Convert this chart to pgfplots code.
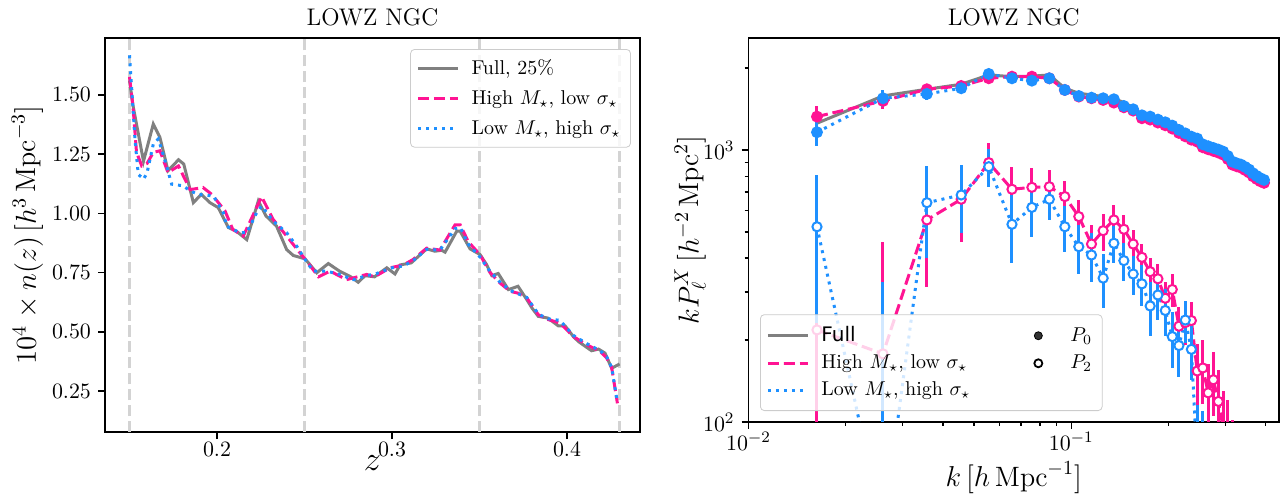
\documentclass[border=0pt]{standalone}
\usepackage{fontspec}
\newfontfamily\dejavu{DejaVu Sans}
\usepackage{pgfplots}
\usepackage{pgfplotstable}
\pgfplotsset{compat=1.18}

\definecolor{pinkc}{HTML}{FF1493}
\definecolor{bluec}{HTML}{1E90FF}
\definecolor{grayc}{HTML}{808080}
\definecolor{vline}{HTML}{D3D3D3}
\definecolor{legframe}{HTML}{CCCCCC}

% n(z), full sample
\pgfplotstableread{
z n
0.150 1.560
0.152 1.455
0.158 1.220
0.1636 1.377
0.1674 1.320
0.172 1.180
0.178 1.226
0.181 1.208
0.1865 1.045
0.191 1.080
0.196 1.045
0.2007 1.024
0.2065 0.940
0.211 0.925
0.217 0.889
0.2236 1.052
0.228 0.989
0.234 0.946
0.2398 0.847
0.2436 0.822
0.2503 0.808
0.257 0.749
0.2636 0.788
0.270 0.756
0.276 0.734
0.2807 0.709
0.2846 0.737
0.290 0.732
0.297 0.770
0.3017 0.744
0.3046 0.782
0.311 0.791
0.3198 0.850
0.3245 0.840
0.3284 0.844
0.3303 0.836
0.337 0.925
0.3389 0.925
0.3446 0.850
0.3503 0.826
0.354 0.784
0.357 0.737
0.3607 0.746
0.3665 0.678
0.372 0.692
0.377 0.636
0.380 0.600
0.3836 0.565
0.389 0.558
0.395 0.525
0.3989 0.525
0.4036 0.480
0.4065 0.459
0.414 0.420
0.418 0.427
0.4217 0.410
0.4255 0.346
0.430 0.364
}\nzfull

% n(z), high M, low sigma
\pgfplotstableread{
z n
0.150 1.576
0.152 1.450
0.154 1.258
0.157 1.200
0.160 1.210
0.1636 1.257
0.1674 1.264
0.172 1.172
0.178 1.200
0.1846 1.100
0.192 1.109
0.197 1.080
0.2046 1.010
0.209 0.932
0.215 0.904
0.2255 1.070
0.232 0.975
0.2398 0.904
0.2474 0.833
0.252 0.791
0.258 0.732
0.2646 0.756
0.274 0.720
0.2855 0.742
0.290 0.732
0.2989 0.770
0.3065 0.782
0.312 0.805
0.3198 0.853
0.3274 0.845
0.336 0.951
0.339 0.951
0.3436 0.880
0.3503 0.825
0.356 0.750
0.3617 0.706
0.3674 0.671
0.372 0.663
0.377 0.643
0.3836 0.572
0.389 0.552
0.396 0.537
0.4036 0.480
0.4113 0.445
0.419 0.417
0.4226 0.390
0.4255 0.350
0.4288 0.198
}\nzhigh

% n(z), low M, high sigma
\pgfplotstableread{
z n
0.150 1.667
0.1515 1.500
0.1531 1.314
0.155 1.165
0.158 1.144
0.160 1.170
0.1636 1.292
0.1665 1.314
0.1703 1.222
0.1741 1.123
0.1807 1.116
0.1846 1.095
0.1893 1.080
0.198 1.073
0.2036 1.003
0.2055 0.946
0.213 0.918
0.217 0.918
0.2227 1.003
0.2255 1.031
0.232 0.968
0.2398 0.918
0.2455 0.862
0.2503 0.805
0.255 0.756
0.2627 0.756
0.270 0.742
0.2779 0.720
0.2846 0.735
0.2912 0.746
0.300 0.770
0.3065 0.778
0.312 0.800
0.3198 0.848
0.3274 0.845
0.336 0.935
0.339 0.940
0.3436 0.870
0.3503 0.815
0.356 0.755
0.3617 0.710
0.3674 0.675
0.377 0.645
0.3836 0.575
0.389 0.555
0.396 0.548
0.4036 0.485
0.4113 0.450
0.419 0.420
0.4226 0.395
0.4255 0.350
0.4288 0.200
}\nzlow

% P0, full sample
\pgfplotstableread{
k y
0.0163 1254
0.0261 1580
0.0357 1672
0.0456 1744
0.0555 1887
0.0655 1860
0.0755 1868
0.0855 1887
0.0955 1686
0.1055 1616
0.1155 1593
0.1255 1571
0.1355 1549
0.1455 1493
0.1555 1435
0.1655 1328
0.1755 1313
0.1855 1280
0.1955 1251
0.2055 1217
0.2155 1173
0.2255 1140
0.2355 1108
0.2455 1090
0.2555 1040
0.2655 1022
0.2755 1007
0.2855 993
0.2955 976
0.3055 941
0.3155 897
0.3255 884
0.3355 874
0.3455 857
0.3555 839
0.3655 813
0.3755 794
0.3855 779
0.3955 768
}\pzfull

% P0, high M, low sigma
\pgfplotstableread{
k y e
0.0163 1326 120
0.0261 1514 100
0.0357 1672 75
0.0456 1719 60
0.0555 1835 50
0.0655 1860 42
0.0755 1860 36
0.0855 1834 32
0.0955 1662 28
0.1055 1571 25
0.1155 1549 23
0.1255 1527 21
0.1355 1493 19
0.1455 1435 18
0.1555 1395 17
0.1655 1308 16
0.1755 1293 15
0.1855 1261 15
0.1955 1232 14
0.2055 1198 14
0.2155 1155 13
0.2255 1122 13
0.2355 1091 12
0.2455 1073 12
0.2555 1023 12
0.2655 1006 11
0.2755 992 11
0.2855 978 11
0.2955 961 10
0.3055 926 10
0.3155 883 10
0.3255 871 10
0.3355 861 9
0.3455 844 9
0.3555 826 9
0.3655 800 9
0.3755 782 8
0.3855 767 8
0.3955 757 8
}\pzhigh

% P0, low M, high sigma
\pgfplotstableread{
k y e
0.0163 1162 130
0.0261 1549 110
0.0357 1607 80
0.0456 1686 60
0.0555 1903 50
0.0655 1834 42
0.0755 1798 36
0.0855 1834 32
0.0955 1662 28
0.1055 1579 25
0.1155 1557 23
0.1255 1549 21
0.1355 1536 19
0.1455 1451 18
0.1555 1411 17
0.1655 1341 16
0.1755 1326 15
0.1855 1293 15
0.1955 1264 14
0.2055 1229 14
0.2155 1185 13
0.2255 1151 13
0.2355 1119 12
0.2455 1101 12
0.2555 1049 12
0.2655 1032 11
0.2755 1017 11
0.2855 1003 11
0.2955 986 10
0.3055 950 10
0.3155 906 10
0.3255 893 10
0.3355 883 9
0.3455 866 9
0.3555 847 9
0.3655 821 9
0.3755 802 8
0.3855 787 8
0.3955 776 8
}\pzlow

% P2, high M, low sigma
\pgfplotstableread{
k y ep em
0.0163 218 250 200
0.0261 178 282 165
0.0357 553 240 240
0.0456 659 200 200
0.0555 898 160 160
0.0655 717 150 150
0.0755 729 127 127
0.0855 733 111 111
0.0955 674 95 95
0.1055 569 86 86
0.1155 451 80 80
0.1255 505 78 78
0.1355 553 73 73
0.1455 511 65 65
0.1555 451 56 56
0.1655 403 50 50
0.1755 357 45 45
0.1855 336 45 45
0.1955 285 42 42
0.2055 307 42 42
0.2155 225 40 40
0.2255 232 40 40
0.2355 236 40 40
0.2455 154 40 40
0.2555 158 42 42
0.2655 128 35 35
0.2755 143 38 38
0.2855 119 36 36
0.2955 95 35 35
0.3055 85 35 35
0.3155 70 32 32
0.3255 60 30 30
0.3355 52 30 30
0.3455 45 28 28
}\ptwohigh

% P2, low M, high sigma
\pgfplotstableread{
k y ep em
0.0163 522 287 290
0.0261 40 288 30
0.0357 640 233 240
0.0456 683 198 189
0.0555 868 140 140
0.0655 533 150 148
0.0755 615 135 135
0.0855 659 110 106
0.0955 522 100 100
0.1055 441 90 90
0.1155 411 85 85
0.1255 338 75 75
0.1355 454 70 70
0.1455 392 62 62
0.1555 350 58 58
0.1655 322 55 55
0.1755 267 60 60
0.1855 293 55 55
0.1955 257 50 50
0.2055 206 48 48
0.2155 191 45 45
0.2255 237 42 42
0.2355 185 42 42
0.2455 70 45 40
0.2555 60 50 40
0.2655 50 45 30
0.2755 45 45 30
0.2855 40 50 25
}\ptwolow

\pgfplotsset{
  common/.style={
    scale only axis,
    tick align=outside, tick pos=left,
    major tick length=3.5pt, minor tick length=2pt,
    every tick/.style={black, line width=0.8pt},
    axis line style={line width=0.8pt},
    tick label style={font=\fontsize{11}{13}\selectfont},
    xticklabel style={inner sep=1.5pt},
    title style={font=\fontsize{12}{14}\selectfont, yshift=-3.5pt},
    legend cell align=left,
  },
}

\begin{document}
\begin{tikzpicture}[x=1pt,y=1pt]

% ---------------- left: n(z) ----------------
\begin{axis}[common,
  at={(52.5pt,30.5pt)}, anchor=south west,
  width=267.5pt, height=197pt,
  xmin=0.136, xmax=0.4417, ymin=0.077, ymax=1.74,
  xtick={0.2,0.3,0.4}, ytick={0.25,0.5,0.75,1,1.25,1.5},
  xticklabel style={/pgf/number format/.cd, fixed, precision=1},
  yticklabel style={/pgf/number format/.cd, fixed, fixed zerofill, precision=2},
  title={LOWZ NGC},
  xlabel={$z$},
  xlabel style={font=\fontsize{17}{20}\selectfont, at={(rel axis cs:0.5,-0.08)}, anchor=center, inner sep=0pt},
  ylabel={$10^4\times n(z)\,[h^3\,\mathrm{Mpc}^{-3}]$},
  ylabel style={font=\fontsize{14}{16}\selectfont, at={(rel axis cs:-0.145,0.5)}, anchor=center},
  legend style={at={(rel axis cs:0.983,0.972)}, anchor=north east,
    draw=legframe, rounded corners=2pt, fill=white, fill opacity=0.8, text opacity=1,
    font=\fontsize{10}{12}\selectfont, inner ysep=3pt, row sep=2.5pt,
    /tikz/every odd column/.append style={column sep=4pt}},
  legend image code/.code={\draw[#1] (0pt,0pt) -- (20pt,0pt);},
]
\addplot[vline, line width=1.5pt, dash pattern=on 5.55pt off 2.4pt, forget plot] coordinates {(0.15,0.077) (0.15,1.74)};
\addplot[vline, line width=1.5pt, dash pattern=on 5.55pt off 2.4pt, forget plot] coordinates {(0.25,0.077) (0.25,1.74)};
\addplot[vline, line width=1.5pt, dash pattern=on 5.55pt off 2.4pt, forget plot] coordinates {(0.35,0.077) (0.35,1.74)};
\addplot[vline, line width=1.5pt, dash pattern=on 5.55pt off 2.4pt, forget plot] coordinates {(0.43,0.077) (0.43,1.74)};

\addplot[grayc, line width=1.5pt] table[x=z, y=n] {\nzfull};
\addlegendentry{Full, 25\%}
\addplot[pinkc, line width=1.5pt, dash pattern=on 5.55pt off 2.4pt] table[x=z, y=n] {\nzhigh};
\addlegendentry{High $M_\star$, low $\sigma_\star$}
\addplot[bluec, line width=1.5pt, dash pattern=on 1.5pt off 2.5pt] table[x=z, y=n] {\nzlow};
\addlegendentry{Low $M_\star$, high $\sigma_\star$}
\end{axis}

% ---------------- right: P_l ----------------
\begin{axis}[common,
  at={(374.25pt,35.5pt)}, anchor=south west,
  width=265.25pt, height=192pt,
  xmode=log, ymode=log,
  xmin=0.01, xmax=0.44, ymin=100, ymax=2580,
  xtick={0.01,0.1}, ytick={100,1000},
  minor xtick={0.02,0.03,0.04,0.05,0.06,0.07,0.08,0.09,0.2,0.3,0.4},
  minor ytick={200,300,400,500,600,700,800,900,2000},
  title={LOWZ NGC},
  xlabel={$k\,[h\,\mathrm{Mpc}^{-1}]$},
  xlabel style={font=\fontsize{14}{16}\selectfont, at={(rel axis cs:0.5,-0.145)}, anchor=center, inner sep=0pt},
  ylabel={$kP_\ell^X\,[h^{-2}\,\mathrm{Mpc}^2]$},
  ylabel style={font=\fontsize{14}{16}\selectfont, at={(rel axis cs:-0.11,0.5)}, anchor=center},
  legend columns=2,
  legend style={at={(rel axis cs:0.0217,0.0286)}, anchor=south west,
    draw=legframe, rounded corners=2pt, fill=white, fill opacity=0.8, text opacity=1,
    font=\fontsize{10}{12}\selectfont, inner ysep=4pt, row sep=1pt,
    /tikz/every odd column/.append style={column sep=4pt},
    /tikz/every even column/.append style={column sep=22pt}},
  legend image code/.code={\draw[mark repeat=2, mark phase=2, #1] plot coordinates {(0pt,0pt) (10pt,0pt) (20pt,0pt)};
    \path[draw=none, fill=none] (0pt,0pt) -- (20pt,0pt);},
]
\addlegendimage{grayc, line width=1.5pt}
\addlegendentry{\dejavu Full}
\addlegendimage{only marks, mark=*, mark size=2pt, black}
\addlegendentry{$P_0$}
\addlegendimage{pinkc, line width=1.5pt, dash pattern=on 5.55pt off 2.4pt}
\addlegendentry{High $M_\star$, low $\sigma_\star$}
\addlegendimage{only marks, mark=*, mark size=2pt, black, mark options={fill=white, line width=0.9pt}}
\addlegendentry{$P_2$}
\addlegendimage{bluec, line width=1.5pt, dash pattern=on 1.5pt off 2.5pt}
\addlegendentry{Low $M_\star$, high $\sigma_\star$}
\addlegendimage{empty legend}
\addlegendentry{}

\addplot[grayc, line width=1.5pt, forget plot] table[x=k, y=y] {\pzfull};

\addplot[pinkc, line width=1.5pt, dash pattern=on 5.55pt off 2.4pt, forget plot,
  mark=*, mark size=2.2pt, mark options={solid, fill=pinkc, draw=pinkc},
  error bars/.cd, y dir=both, y explicit, error mark=none,
  error bar style={solid, line width=1.5pt, pinkc}]
  table[x=k, y=y, y error=e] {\pzhigh};
\addplot[bluec, line width=1.5pt, dash pattern=on 1.5pt off 2.5pt, forget plot,
  mark=*, mark size=2.2pt, mark options={solid, fill=bluec, draw=bluec},
  error bars/.cd, y dir=both, y explicit, error mark=none,
  error bar style={solid, line width=1.5pt, bluec}]
  table[x=k, y=y, y error=e] {\pzlow};

\addplot[pinkc, line width=1.5pt, dash pattern=on 5.55pt off 2.4pt, forget plot,
  mark=*, mark size=2.3pt, mark options={solid, fill=white, draw=pinkc, line width=1pt},
  error bars/.cd, y dir=both, y explicit, error mark=none,
  error bar style={solid, line width=1.5pt, pinkc}]
  table[x=k, y=y, y error plus=ep, y error minus=em] {\ptwohigh};
\addplot[bluec, line width=1.5pt, dash pattern=on 1.5pt off 2.5pt, forget plot,
  mark=*, mark size=2.3pt, mark options={solid, fill=white, draw=bluec, line width=1pt},
  error bars/.cd, y dir=both, y explicit, error mark=none,
  error bar style={solid, line width=1.5pt, bluec}]
  table[x=k, y=y, y error plus=ep, y error minus=em] {\ptwolow};
\end{axis}

\pgfresetboundingbox
\path[use as bounding box] (0,0) rectangle (643,246.5);
\end{tikzpicture}
\end{document}
